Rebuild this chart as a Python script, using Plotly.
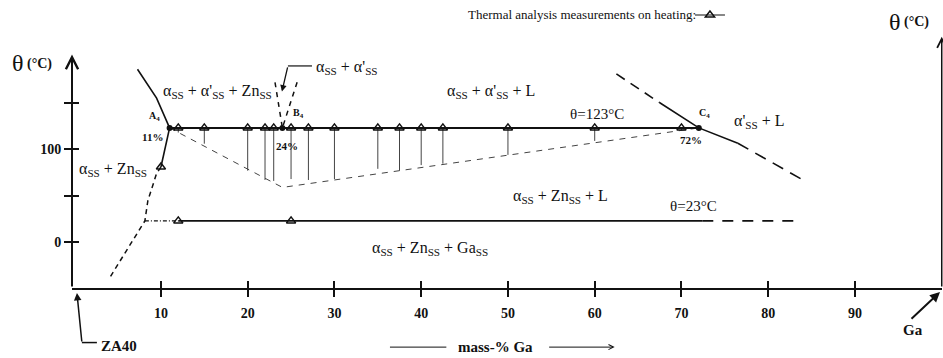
import plotly.graph_objects as go

SERIF = "Liberation Serif"
INK = "#111111"

# Thermal analysis on heating: alloy compositions (mass-% Ga) and arrest temperatures (°C)
alloy_ga = [12, 15, 20, 22, 23, 25, 27, 30, 35, 37.5, 40, 42.5, 50, 60, 70]
upper_arrest_t = [123, 123, 123, 123, 123, 123, 123, 123, 123, 123, 123, 123, 123, 123, 123]
lower_arrest_t = [118, 106, 77, 67, 66, 68, 67, 68, 79, 77, 83, 84.5, 94, 109, 120]

# extra measured points: solvus point and the 23 °C arrests
solvus_pt_ga = [10]
solvus_pt_t = [81]
low_arrest_ga = [12, 25]
low_arrest_t = [23, 23]

# invariant points on the 123 °C line
inv_names = ["A<sub>4</sub>", "B<sub>4</sub>", "C<sub>4</sub>"]
inv_comp = ["11%", "24%", "72%"]
inv_ga = [11, 24, 72]
inv_t = [123, 123, 123]

# phase boundaries
liq_left_ga = [7.3, 9.5, 11]
liq_left_t = [186, 155, 123]
solv_solid_ga = [11, 10]
solv_solid_t = [123, 81]
solv_dash_ga = [10, 9.5, 8.5, 8.15, 4.1]
solv_dash_t = [81, 74, 45, 23, -38]
lower_v_ga = [11, 24, 72]
lower_v_t = [123, 59, 123]
b4_left_ga = [23.15, 24]
b4_left_t = [172, 123]
b4_right_ga = [25.7, 24]
b4_right_t = [172, 123]
liq_r_top_ga = [62.5, 67.5]
liq_r_top_t = [181, 150]
liq_r_mid_ga = [67.5, 72, 76.5]
liq_r_mid_t = [150, 123, 106.5]
liq_r_low_ga = [76.5, 84]
liq_r_low_t = [106.5, 67]
eut_dd_ga = [8.15, 12]
eut_solid_ga = [12, 72.4]
eut_dash_ga = [72.4, 83]
eut_t = [23, 23]

x_ticks = [10, 20, 30, 40, 50, 60, 70, 80, 90]
x_tick_text = ["10", "20", "30", "40", "50", "60", "70", "80", "90"]
y_ticks = [0, 50, 100, 150]
y_tick_text = ["0", "", "100", ""]

X_RANGE = [-0.25, 100.03]
Y_RANGE = [-49.14, 260.5]


def to_paper(x, y):
    """Data coordinates -> paper fractions (for items drawn outside the axes)."""
    return ((x - X_RANGE[0]) / (X_RANGE[1] - X_RANGE[0]),
            (y - Y_RANGE[0]) / (Y_RANGE[1] - Y_RANGE[0]))


fig = go.Figure()


def line(xs, ys, width=1.5, dash="solid", color=INK):
    fig.add_trace(go.Scatter(x=xs, y=ys, mode="lines", showlegend=False,
                             hoverinfo="skip",
                             line=dict(color=color, width=width, dash=dash)))


# tie lines between upper and lower arrests
tie_x, tie_y = [], []
for g, tu, tl in zip(alloy_ga, upper_arrest_t, lower_arrest_t):
    tie_x += [g, g, None]
    tie_y += [tu, tl, None]
line(tie_x, tie_y, width=1, color="#444444")

line(lower_v_ga, lower_v_t, width=1, dash="6px,6px", color="#444444")
line(liq_left_ga, liq_left_t, width=1.6)
line(solv_solid_ga, solv_solid_t, width=1.6)
line(solv_dash_ga, solv_dash_t, width=1.5, dash="5px,4px")
line(b4_left_ga, b4_left_t, width=1.5, dash="5px,5px")
line(b4_right_ga, b4_right_t, width=1.5, dash="5px,5px")
line(liq_r_top_ga, liq_r_top_t, width=1.6, dash="10px,7px")
line(liq_r_mid_ga, liq_r_mid_t, width=1.6)
line(liq_r_low_ga, liq_r_low_t, width=1.6, dash="12px,8px")
line(eut_dd_ga, eut_t, width=1.2, dash="4px,2px,1px,2px")
line(eut_solid_ga, eut_t, width=1.6)
line(eut_dash_ga, eut_t, width=1.6, dash="11px,9px")
line([inv_ga[0], inv_ga[2]], [inv_t[0], inv_t[2]], width=2)

# measurement triangles
tri = dict(symbol="triangle-up-open", size=8, color=INK, line=dict(width=1.5, color=INK))
fig.add_trace(go.Scatter(x=alloy_ga, y=upper_arrest_t, mode="markers", marker=tri,
                         showlegend=False, hoverinfo="skip"))
fig.add_trace(go.Scatter(x=solvus_pt_ga + low_arrest_ga, y=solvus_pt_t + low_arrest_t,
                         mode="markers", marker=tri, showlegend=False, hoverinfo="skip"))
fig.add_trace(go.Scatter(x=inv_ga, y=inv_t, mode="markers",
                         marker=dict(symbol="circle", size=6, color=INK),
                         showlegend=False, hoverinfo="skip"))

# legend key
fig.add_trace(go.Scatter(x=[None], y=[None], mode="lines+markers", name="",
                         marker=tri, line=dict(color=INK, width=1.2), showlegend=True))


def text(x, y, s, size=16, bold=False, xanchor="center", yanchor="middle", outside=False):
    ref = dict(xref="x", yref="y")
    if outside:
        x, y = to_paper(x, y)
        ref = dict(xref="paper", yref="paper")
    fig.add_annotation(x=x, y=y, **ref, text=s, showarrow=False,
                       xanchor=xanchor, yanchor=yanchor,
                       font=dict(family=SERIF, size=size, color=INK,
                                 weight="bold" if bold else "normal"))


def arrow(x, y, ax, ay, head=2, width=1.5, size=1.0):
    fig.add_annotation(x=x, y=y, ax=ax, ay=ay, xref="x", yref="y", axref="x", ayref="y",
                       text="", showarrow=True, arrowhead=head, arrowwidth=width,
                       arrowsize=size, arrowcolor=INK, standoff=0, startstandoff=0)


def arrow_out(x, y, dx_px, dy_px, head=2, width=1.5, size=1.0):
    """Arrow whose tip lies outside the axes; tail given as a pixel offset."""
    px, py = to_paper(x, y)
    fig.add_annotation(x=px, y=py, ax=dx_px, ay=dy_px, xref="paper", yref="paper",
                       axref="pixel", ayref="pixel",
                       text="", showarrow=True, arrowhead=head, arrowwidth=width,
                       arrowsize=size, arrowcolor=INK, standoff=0, startstandoff=0)


def segment_out(x0, y0, x1, y1, width=1.5):
    p0 = to_paper(x0, y0)
    p1 = to_paper(x1, y1)
    fig.add_shape(type="line", xref="paper", yref="paper", x0=p0[0], y0=p0[1],
                  x1=p1[0], y1=p1[1], line=dict(color=INK, width=width))


A = "α<sub>SS</sub>"
AP = "α'<sub>SS</sub>"
ZN = "Zn<sub>SS</sub>"
GA = "Ga<sub>SS</sub>"

text(4.5, 78, f"{A} + {ZN}")
text(16.5, 162, f"{A} + {AP} + {ZN}")
text(48.1, 162, f"{A} + {AP} + L")
text(60.3, 138, "θ=123°C", size=15)
text(79.0, 130, f"{AP} + L")
text(56.0, 49, f"{A} + {ZN} + L")
text(71.4, 39.5, "θ=23°C", size=15)
text(41.0, -7, f"{A} + {ZN} + {GA}")

# invariant point labels
text(inv_ga[0] - 1.7, inv_t[0] + 12, inv_names[0], size=10, bold=True)
text(inv_ga[0] - 2.0, inv_t[0] - 10, inv_comp[0], size=11, bold=True)
text(inv_ga[1] + 1.8, inv_t[1] + 15, inv_names[1], size=10, bold=True)
text(inv_ga[1] + 0.5, inv_t[1] - 20, inv_comp[1], size=11, bold=True)
text(inv_ga[2] + 0.6, inv_t[2] + 15, inv_names[2], size=10, bold=True)
text(inv_ga[2] - 0.9, inv_t[2] - 13, inv_comp[2], size=11, bold=True)

# leader to the alpha + alpha' field
line([24.64, 27.41], [189.6, 189.6], width=1.2)
arrow(23.95, 162, 24.64, 189.6, head=2, width=1.3, size=1.0)
text(27.6, 188, f"{A} + {AP}", xanchor="left")

# temperature axis labels: large theta followed by the unit
text(-6.43, 192.6, "θ", size=24, outside=True)
text(-3.95, 192.0, "(°C)", size=14, bold=True, outside=True)
text(94.6, 237.0, "θ", size=24)
text(97.05, 236.4, "(°C)", size=14, bold=True)
text(71.9, 244.4, "Thermal analysis measurements on heating:", size=13, xanchor="right")

# axis arrows
arrow(-0.25, 202, -0.25, Y_RANGE[0], head=5, width=2, size=1.2)
arrow(100, 221, 100, Y_RANGE[0], head=5, width=1.5, size=1.2)

# ZA40 and Ga pointers
arrow_out(0.32, -54.5, 5, 50, head=2, width=1.5, size=1.0)
segment_out(0.89, -107.8, 2.62, -107.8, width=1.5)
text(2.9, -111.2, "ZA40", size=15, bold=True, xanchor="left", outside=True)
arrow_out(99.8, -53.5, -30, 28, head=2, width=2, size=1.0)
text(96.7, -94.2, "Ga", size=15, bold=True, outside=True)

# composition axis title with arrows
segment_out(36.4, -112.7, 42.9, -112.7, width=1)
text(48.6, -112.7, "mass-% Ga", size=15, bold=True, outside=True)
arrow_out(62.3, -112.7, -67, 0, head=5, width=1, size=1.0)

tick_font = dict(family=SERIF, size=14, color=INK, weight="bold")
common_x = dict(range=X_RANGE, showgrid=False, zeroline=False, tickvals=x_ticks,
                fixedrange=True)
common_y = dict(range=Y_RANGE, showgrid=False, zeroline=False, tickvals=y_ticks,
                fixedrange=True)

fig.update_layout(
    width=943, height=358, autosize=False,
    margin=dict(l=72, r=1, t=0, b=70, pad=0),
    paper_bgcolor="white", plot_bgcolor="white",
    xaxis=dict(**common_x, ticktext=x_tick_text, ticks="outside", ticklen=7,
               tickwidth=1.5, tickcolor=INK, showline=True, linewidth=2,
               linecolor=INK, tickfont=tick_font, ticklabelstandoff=4),
    xaxis2=dict(**common_x, overlaying="x", side="bottom", ticks="inside",
                ticklen=7, tickwidth=1.5, tickcolor=INK, showticklabels=False,
                showline=False),
    yaxis=dict(**common_y, ticktext=y_tick_text, ticks="outside", ticklen=7,
               tickwidth=1.5, tickcolor=INK, showline=False, tickfont=tick_font),
    yaxis2=dict(**common_y, overlaying="y", side="left", ticks="inside", ticklen=7,
                tickwidth=1.5, tickcolor=INK, showticklabels=False, showline=False),
    legend=dict(x=0.7103, y=0.948, xanchor="left", yanchor="middle",
                bgcolor="rgba(0,0,0,0)", font=dict(size=1), itemwidth=30,
                tracegroupgap=0),
    showlegend=True,
)

# anchor trace for the overlay tick axes
fig.add_trace(go.Scatter(x=[None], y=[None], xaxis="x2", yaxis="y2",
                         showlegend=False, hoverinfo="skip"))

fig.write_html("out.html")
